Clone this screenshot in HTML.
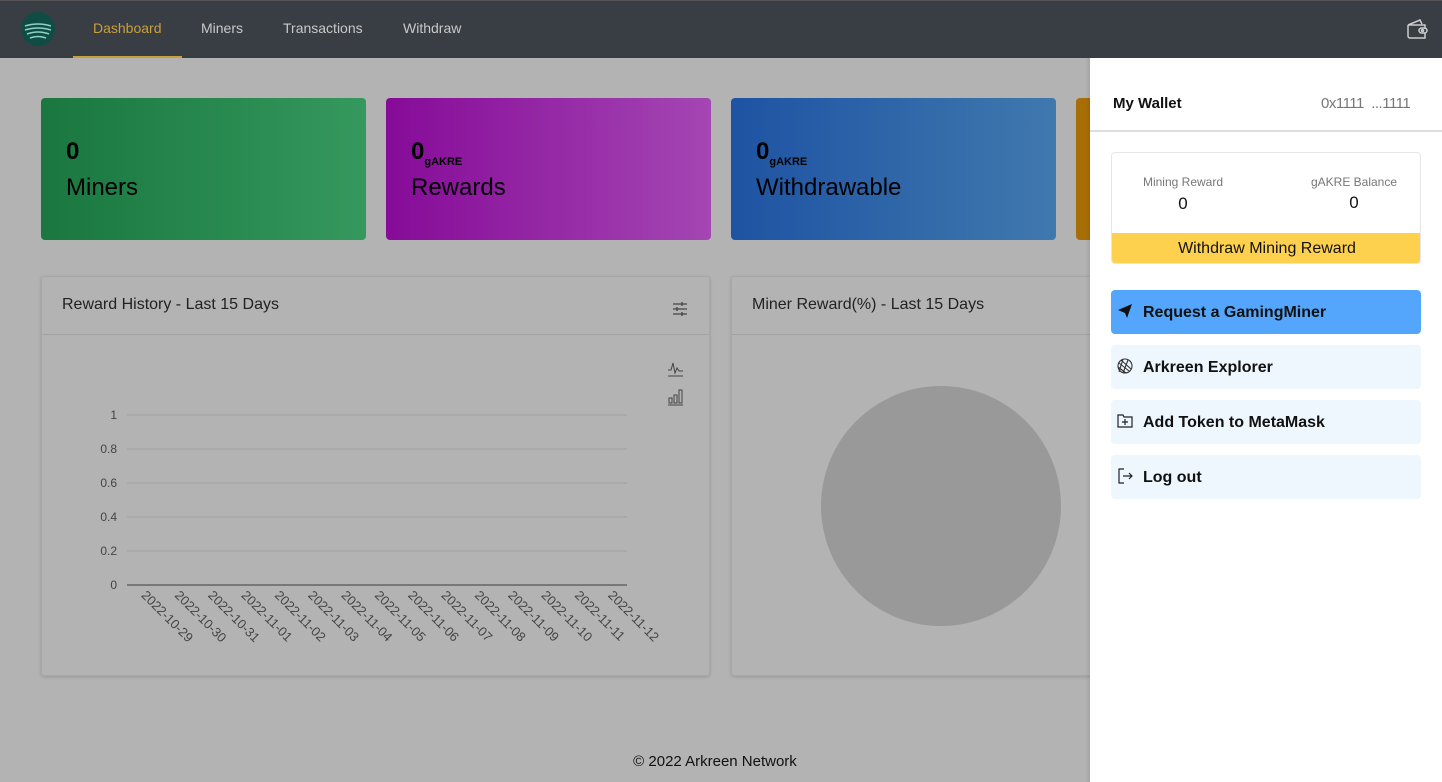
<!DOCTYPE html>
<html><head><meta charset="utf-8"><style>
*{box-sizing:border-box;margin:0;padding:0}
body{width:1442px;height:782px;overflow:hidden;background:#b3b3b3;font-family:"Liberation Sans",sans-serif;position:relative}
.top{position:absolute;left:0;top:0;width:1442px;height:58px;background:#393d44;border-top:1px solid #555}
.nav{position:absolute;top:19px;font-size:14px;color:#c9c9c9}
.card{position:absolute;top:98px;height:142px;border-radius:4px;width:325px}
.card .n{position:absolute;left:25px;top:40px;font-size:24px;font-weight:bold;color:#000}
.card .n sub{font-size:11px;vertical-align:-6px}
.card .l{position:absolute;left:25px;top:76px;font-size:24px;color:#000}
.panel{position:absolute;top:276px;height:400px;background:#b3b3b3;border:1px solid #a7a7a7;border-radius:3px;box-shadow:0 1px 3px rgba(0,0,0,.15)}
.panel .hd{height:58px;border-bottom:1px solid #a2a2a2;font-size:16px;color:#222;padding:19px 20px}
.side{position:absolute;left:1090px;top:58px;width:352px;height:724px;background:#fff}
.btn{position:absolute;left:21px;width:310px;height:44px;border-radius:4px;background:#eef6fe;font-size:16px;font-weight:bold;color:#111;padding:13px 0 0 32px}
.btn svg{position:absolute;left:6px;top:13px}
</style></head><body>
<div class="top">
 <svg style="position:absolute;left:20px;top:10px" width="36" height="36" viewBox="0 0 36 36"><circle cx="18" cy="18" r="17" fill="#0f4d44"/><path d="M5 15q13-4 26 0M5 19q13-4 26 0M7 23q11-4 22 0M10 27q8-3 16 0" stroke="#8fd0c4" stroke-width="1.5" fill="none"/></svg>
 <div class="nav" style="left:93px;color:#c9a03a">Dashboard</div>
 <div style="position:absolute;left:73px;top:55px;width:109px;height:2px;background:#c9a03a"></div>
 <div class="nav" style="left:201px">Miners</div>
 <div class="nav" style="left:283px">Transactions</div>
 <div class="nav" style="left:403px">Withdraw</div>
 <svg style="position:absolute;left:1405px;top:16px" width="24" height="24" viewBox="0 0 24 24" fill="none" stroke="#ccc" stroke-width="1.5"><path d="M3 8v11a2 2 0 0 0 2 2h15v-5M3 8l12-5 2 4M3 8h17v4"/><rect x="14" y="11" width="8" height="5" rx="2.5"/><circle cx="17.5" cy="13.5" r="1"/></svg>
</div>

<div class="card" style="left:41px;background:linear-gradient(90deg,#19773f,#35985d)"><div class="n">0</div><div class="l">Miners</div></div>
<div class="card" style="left:386px;background:linear-gradient(90deg,#860b98,#a446b3)"><div class="n">0<sub>gAKRE</sub></div><div class="l">Rewards</div></div>
<div class="card" style="left:731px;background:linear-gradient(90deg,#1e53a3,#4079ae)"><div class="n">0<sub>gAKRE</sub></div><div class="l">Withdrawable</div></div>
<div class="card" style="left:1076px;background:#a86e06"></div>

<div class="panel" style="left:41px;width:669px">
 <div class="hd">Reward History - Last 15 Days</div>
 <svg style="position:absolute;left:630px;top:24px" width="16" height="16" viewBox="0 0 16 16" stroke="#444" stroke-width="1.3"><path d="M1 3h14M1 8h14M1 13h14"/><path d="M10 1v4M5 6v4M10 11v4"/></svg>
</div>
<div class="panel" style="left:731px;width:400px">
 <div class="hd">Miner Reward(%) - Last 15 Days</div>
 <div style="position:absolute;left:89px;top:109px;width:240px;height:240px;border-radius:50%;background:#999"></div>
</div>

<svg id="chart" style="position:absolute;left:0;top:0" width="1090" height="782"></svg>
<svg style="position:absolute;left:667px;top:361px" width="17" height="16" viewBox="0 0 17 16" fill="none" stroke="#444" stroke-width="1"><path d="M1 9h3l2-7 2 10 2-5 2 3h4M1 15h15"/></svg>
<svg style="position:absolute;left:667px;top:388px" width="17" height="18" viewBox="0 0 17 18" fill="none" stroke="#444" stroke-width="1"><rect x="2" y="10" width="3" height="5"/><rect x="7" y="7" width="3" height="8"/><rect x="12" y="2" width="3" height="13"/><path d="M1 17h15"/></svg>

<div style="position:absolute;left:-6px;width:1442px;text-align:center;top:753px;font-size:15px;color:#111">© 2022 Arkreen Network</div>

<div style="position:absolute;left:1085px;top:58px;width:5px;height:724px;background:linear-gradient(90deg,rgba(0,0,0,0),rgba(0,0,0,.08))"></div>
<div class="side">
 <div style="position:absolute;left:23px;top:37px;font-size:15px;font-weight:bold;color:#111">My Wallet</div>
 <div style="position:absolute;left:231px;top:37px;font-size:15px;color:#777;letter-spacing:-0.5px">0x1111 &nbsp;...1111</div>
 <div style="position:absolute;left:0;top:72px;width:352px;height:2px;background:#ddd"></div>
 <div style="position:absolute;left:21px;top:94px;width:310px;height:112px;border:1px solid #e6e6e6;border-radius:4px;overflow:hidden">
  <div style="position:absolute;left:0;width:142px;text-align:center;top:22px;font-size:12px;color:#777">Mining Reward</div>
  <div style="position:absolute;left:0;width:142px;text-align:center;top:41px;font-size:17px;color:#111">0</div>
  <div style="position:absolute;left:160px;width:164px;text-align:center;top:22px;font-size:12px;color:#777">gAKRE Balance</div>
  <div style="position:absolute;left:160px;width:164px;text-align:center;top:40px;font-size:17px;color:#111">0</div>
  <div style="position:absolute;left:0;top:80px;width:310px;height:31px;background:#fdd14e;text-align:center;font-size:16px;color:#111;padding-top:7px">Withdraw Mining Reward</div>
 </div>
 <div class="btn" style="top:232px;background:#53a6fb;padding-top:14px"><svg width="16" height="16" viewBox="0 0 16 16"><path d="M1 7l14-6-5 14-2-5z" fill="#111"/></svg>Request a GamingMiner</div>
 <div class="btn" style="top:287px;padding-top:14px"><svg width="16" height="16" viewBox="0 0 16 16" fill="none" stroke="#333" stroke-width="1.1"><circle cx="8" cy="8" r="7"/><path d="M2 5l10 8M4 2l10 9M1 9l8 6M6 1l-4 13M11 2l-5 13"/></svg>Arkreen Explorer</div>
 <div class="btn" style="top:342px;padding-top:14px"><svg width="16" height="16" viewBox="0 0 16 16" fill="none" stroke="#222" stroke-width="1.2"><path d="M1 2h5l1 2h8v10H1z M8 6v6M5 9h6"/></svg>Add Token to MetaMask</div>
 <div class="btn" style="top:397px;padding-top:14px"><svg width="16" height="16" viewBox="0 0 16 16" fill="none" stroke="#222" stroke-width="1.2"><path d="M7 1H2v14h5M6 8h9M12 5l3 3-3 3"/></svg>Log out</div>
</div>

<script>
const categories=["2022-10-29","2022-10-30","2022-10-31","2022-11-01","2022-11-02","2022-11-03","2022-11-04","2022-11-05","2022-11-06","2022-11-07","2022-11-08","2022-11-09","2022-11-10","2022-11-11","2022-11-12"];
const rewards=[0,0,0,0,0,0,0,0,0,0,0,0,0,0,0];
const yTicks=[0,0.2,0.4,0.6,0.8,1];
const yTickLabels=["0","0.2","0.4","0.6","0.8","1"];

const svg=document.getElementById('chart');
const NS='http://www.w3.org/2000/svg';
const X0=127,X1=627,Y0=585,Y1=415;
const yMax=1;
function yScale(v){return Y0-(v/yMax)*(Y0-Y1);}
function xScale(i){const w=(X1-X0)/categories.length;return X0+w*(i+0.5);}
function mk(tag,attrs){const e=document.createElementNS(NS,tag);for(const k in attrs)e.setAttribute(k,attrs[k]);svg.appendChild(e);return e;}
yTicks.forEach((t,i)=>{
 const g=mk('line',{x1:X0,x2:X1,y1:yScale(t),y2:yScale(t),stroke:'#9da0a6','stroke-width':1});
 
 
 const tx=mk('text',{x:X0-10,y:yScale(t)+4,'text-anchor':'end','font-size':12,fill:'#444','font-family':'Liberation Sans, sans-serif'});
 tx.textContent=yTickLabels[i];
 
 
});
const ax=mk('line',{x1:X0,x2:X1,y1:Y0,y2:Y0,stroke:'#555','stroke-width':1.2});


categories.forEach((c,i)=>{
 const x=xScale(i)-3;
 const tx=mk('text',{x:x,y:Y0+11,transform:`rotate(45 ${x} ${Y0+11})`,'font-size':13,fill:'#444','font-family':'Liberation Sans, sans-serif'});
 tx.textContent=c;
 
 
});
let d='';
rewards.forEach((v,i)=>{d+=(i?'L':'M')+xScale(i)+' '+yScale(v);});
const ln=mk('path',{d:d,stroke:'#555','stroke-width':1,fill:'none'});


</script>
</body></html>
